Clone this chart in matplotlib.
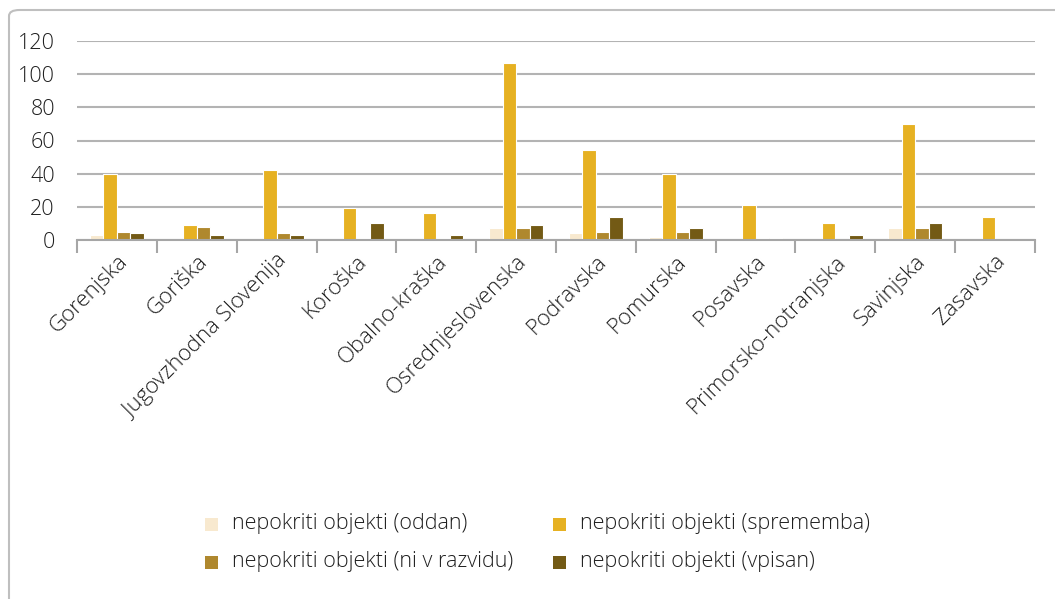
import matplotlib
matplotlib.use("Agg")
import matplotlib.pyplot as plt
from matplotlib.patches import FancyBboxPatch, Rectangle
import numpy as np

categories = ["Gorenjska", "Goriška", "Jugovzhodna Slovenija", "Koroška", "Obalno-kraška",
              "Osrednjeslovenska", "Podravska", "Pomurska", "Posavska", "Primorsko-notranjska",
              "Savinjska", "Zasavska"]
series_names = ["nepokriti objekti (oddan)", "nepokriti objekti (sprememba)",
                "nepokriti objekti (ni v razvidu)", "nepokriti objekti (vpisan)"]
oddan = [3, 0, 0, 0, 0, 7, 4, 2, 0, 0, 7, 0]
sprememba = [40, 9, 42, 19, 16, 107, 54, 40, 21, 10, 70, 14]
ni_v_razvidu = [5, 8, 4, 1, 1, 7, 5, 5, 1, 0, 7, 0]
vpisan = [4, 3, 3, 10, 3, 9, 14, 7, 1, 3, 10, 0]
colors = ["#F8E9CF", "#E6B122", "#AF882E", "#735A15"]
yticks = [0, 20, 40, 60, 80, 100, 120]

plt.rcParams['font.family'] = ['Open Sans', 'DejaVu Sans']
fig = plt.figure(figsize=(10.55, 5.99), dpi=100)
W, H = 1055, 599
ax = fig.add_axes([77 / W, 1 - 240 / H, (1035 - 77) / W, (240 - 41) / H])

x = np.arange(len(categories))
bw = 0.17
series = [oddan, sprememba, ni_v_razvidu, vpisan]
for i, (vals, c) in enumerate(zip(series, colors)):
    ax.bar(x + (i - 1.5) * bw, vals, width=bw, color=c, edgecolor="white", linewidth=0.8, zorder=3)

txt = "#1F1F1F"
ax.set_xlim(-0.5, len(categories) - 0.5)
ax.set_ylim(0, 120)
ax.set_yticks(yticks)
ax.yaxis.grid(True, color="#B3B3B3", linewidth=1.5, zorder=0)
ax.set_axisbelow(True)
for s in ["top", "right", "left"]:
    ax.spines[s].set_visible(False)
ax.spines["bottom"].set_color("#A6A6A6")
ax.spines["bottom"].set_linewidth(1.5)
ax.spines["bottom"].set_zorder(4)
ax.tick_params(axis="y", length=0, pad=16, labelsize=15.5, labelcolor=txt)
ax.set_xticks(x)
ax.set_xticklabels(categories, rotation=45, ha="right", rotation_mode="anchor",
                   fontsize=16, color=txt, fontweight="light")
ax.tick_params(axis="x", which="major", length=0, pad=8)
ax.set_xticks(np.arange(-0.5, len(categories) + 0.5, 1), minor=True)
ax.tick_params(axis="x", which="minor", length=9, width=1.5, color="#A6A6A6")
for lab in ax.get_yticklabels():
    lab.set_fontweight("light")

# legend, laid out in two columns (column-major order: oddan, ni v razvidu | sprememba, vpisan)
col_x = [205, 553]
row_y = [524, 562]
order = [0, 2, 1, 3]
for k, idx in enumerate(order):
    cx = col_x[k // 2]
    cy = row_y[k % 2]
    fig.patches.append(Rectangle((cx / W, 1 - (cy + 6.5) / H), 13 / W, 13 / H,
                                 transform=fig.transFigure, facecolor=colors[idx],
                                 edgecolor="none"))
    fig.text((cx + 27) / W, 1 - cy / H, series_names[idx], ha="left", va="center",
             fontsize=15.5, fontweight="light", color=txt)

border = FancyBboxPatch((9 / W, 1 - 620 / H), (1080 - 9) / W, (620 - 10) / H,
                        boxstyle="round,pad=0,rounding_size=0.01", transform=fig.transFigure,
                        facecolor="none", edgecolor="#BFBFBF", linewidth=1.5)
fig.patches.append(border)

fig.savefig("out.png", dpi=100)
